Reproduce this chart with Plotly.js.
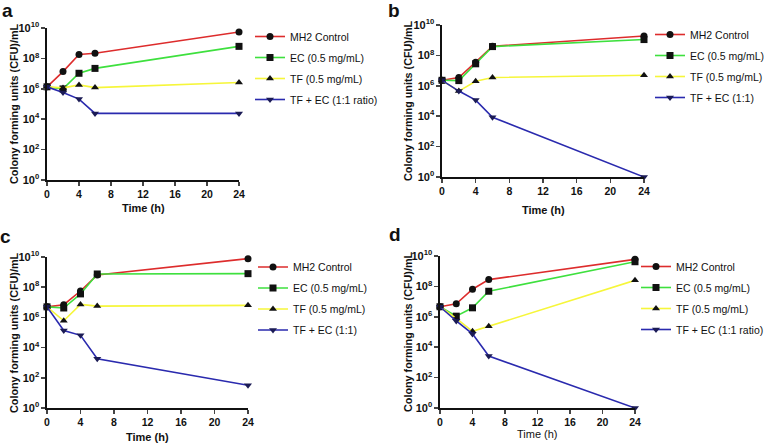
<!DOCTYPE html>
<html><head><meta charset="utf-8">
<script src="https://cdn.plot.ly/plotly-3.0.1.min.js"></script>
<style>html,body{margin:0;padding:0;background:#fff}#chart{width:779px;height:447px}</style>
</head><body><div id="chart"></div>
<script>
// ---- data (CFU/mL) ----
const time = [0, 2, 4, 6, 24];
const xTicks = [0, 4, 8, 12, 16, 20, 24];
const yTickVals = [1, 1e2, 1e4, 1e6, 1e8, 1e10];
const yTickText = ['10<sup>0</sup>','10<sup>2</sup>','10<sup>4</sup>','10<sup>6</sup>','10<sup>8</sup>','10<sup>10</sup>'];
const panelLabels = ['a', 'b', 'c', 'd'];
const namesLong = ['MH2 Control', 'EC (0.5 mg/mL)', 'TF (0.5 mg/mL)', 'TF + EC (1:1 ratio)'];
const namesShort = ['MH2 Control', 'EC (0.5 mg/mL)', 'TF (0.5 mg/mL)', 'TF + EC (1:1)'];

const a_mh2  = [1.35e6, 1.35e7, 1.8e8, 2.2e8, 5.5e9];
const a_ec   = [1.35e6, 9.8e5, 1.05e7, 2.2e7, 6.2e8];
const a_tf   = [1.35e6, 1.15e6, 1.8e6, 1.2e6, 2.6e6];
const a_tfec = [1.35e6, 5.8e5, 2.1e5, 2.4e4, 2.4e4];

const b_mh2  = [2.3e6, 3.5e6, 3.6e7, 4.0e8, 1.9e9];
const b_ec   = [2.3e6, 2.2e6, 2.8e7, 3.8e8, 1.1e9];
const b_tf   = [2.3e6, 4.5e5, 2.0e6, 3.5e6, 5.0e6];
const b_tfec = [2.3e6, 4.5e5, 1.15e5, 8.5e3, 1];

const c_mh2  = [5.0e6, 6.9e6, 5.6e7, 6.5e8, 7.8e9];
const c_ec   = [5.0e6, 4.2e6, 3.6e7, 7.5e8, 7.9e8];
const c_tf   = [5.0e6, 6.0e5, 7.2e6, 5.6e6, 6.3e6];
const c_tfec = [5.0e6, 1.35e5, 6.5e4, 1.85e3, 32];

const d_mh2  = [4.6e6, 7.2e6, 6.5e7, 2.8e8, 6.0e9];
const d_ec   = [4.6e6, 1.1e6, 3.9e6, 4.8e7, 4.2e9];
const d_tf   = [4.6e6, 8.0e5, 1.1e5, 2.4e5, 2.5e8];
const d_tfec = [4.6e6, 5.3e5, 7.5e4, 2.6e3, 1];

const panelData = [
  [a_mh2, a_ec, a_tf, a_tfec],
  [b_mh2, b_ec, b_tf, b_tfec],
  [c_mh2, c_ec, c_tf, c_tfec],
  [d_mh2, d_ec, d_tf, d_tfec]
];
const panelNames = [namesLong, namesShort, namesShort, namesLong];

// ---- styles ----
const W = 779, H = 447;
const lineColors = ['#dd2c2c', '#3ee03e', '#f6f63a', '#2a2aae'];
const markerColors = ['#111111', '#111111', '#111111', '#1b1b55'];
const symbols = ['circle', 'square', 'triangle-up', 'triangle-down'];
const markerSizes = [7, 7, 7, 7];
const FONT = 'Liberation Sans, Arial, Helvetica, sans-serif';

// plot boxes in pixels: [left, right, top, bottom]
const boxes = [
  [47, 239, 28, 180],
  [442, 644, 25, 177],
  [47, 248, 257, 408],
  [440, 635, 256, 408]
];
const legendPos = [[250, 22], [650, 20], [253, 252.5], [636, 252]];
const letterPos = [[8, 10], [394, 10], [5, 236], [395, 234]];
const yTitlePos = [[14, 104], [408, 101], [14, 333], [408, 332]];
const xTitlePos = [[143, 208], [543, 210], [147, 437], [537, 434]];

const px = x => x / W, py = y => 1 - y / H;

const traces = [];
const layout = {
  width: W, height: H,
  margin: {l: 0, r: 0, t: 0, b: 0},
  paper_bgcolor: '#fff', plot_bgcolor: '#fff',
  font: {family: FONT, color: '#111'},
  showlegend: true,
  annotations: []
};

panelData.forEach((series, p) => {
  const sfx = p === 0 ? '' : String(p + 1);
  const lg = 'legend' + sfx;
  series.forEach((vals, i) => {
    traces.push({
      x: time, y: vals, type: 'scatter', mode: 'lines+markers',
      name: panelNames[p][i],
      xaxis: 'x' + sfx, yaxis: 'y' + sfx,
      legend: lg, legendgroup: 'p' + p + 's' + i,
      cliponaxis: false,
      line: {color: lineColors[i], width: 1.6},
      marker: {symbol: symbols[i], size: markerSizes[i], color: markerColors[i]}
    });
  });
  const b = boxes[p];
  layout['xaxis' + sfx] = {
    domain: [px(b[0]), px(b[1])], anchor: 'y' + sfx,
    range: [0, 24], tickvals: xTicks, ticks: 'outside', ticklen: 4, tickwidth: 1.5,
    showline: true, linewidth: 1.6, linecolor: '#111', showgrid: false, zeroline: false,
    tickfont: {family: FONT, size: 10.5, weight: 'bold', color: '#111'}
  };
  layout['yaxis' + sfx] = {
    domain: [py(b[3]), py(b[2])], anchor: 'x' + sfx, type: 'log',
    range: [0, 10], tickvals: yTickVals, ticktext: yTickText,
    ticks: 'outside', ticklen: 4, tickwidth: 1.5,
    showline: true, linewidth: 1.6, linecolor: '#111', showgrid: false, zeroline: false,
    tickfont: {family: FONT, size: 11, weight: 'bold', color: '#111'}
  };
  layout[lg] = {
    x: px(legendPos[p][0]), y: py(legendPos[p][1]), xanchor: 'left', yanchor: 'top',
    xref: 'paper', yref: 'paper',
    bgcolor: 'rgba(0,0,0,0)', borderwidth: 0, tracegroupgap: 2, itemwidth: 30,
    font: {family: FONT, size: 10.5, color: '#111'}
  };
  layout.annotations.push({
    text: panelLabels[p], x: px(letterPos[p][0]), y: py(letterPos[p][1]),
    xref: 'paper', yref: 'paper', showarrow: false, xanchor: 'center', yanchor: 'middle',
    font: {family: FONT, size: 19, weight: 'bold', color: '#111'}
  });
  layout.annotations.push({
    text: 'Colony forming units (CFU)/mL', x: px(yTitlePos[p][0]), y: py(yTitlePos[p][1]),
    xref: 'paper', yref: 'paper', showarrow: false, textangle: -90, xanchor: 'center', yanchor: 'middle',
    font: {family: FONT, size: 10.8, weight: 'bold', color: '#111'}
  });
  layout.annotations.push({
    text: 'Time (h)', x: px(xTitlePos[p][0]), y: py(xTitlePos[p][1]),
    xref: 'paper', yref: 'paper', showarrow: false, xanchor: 'center', yanchor: 'middle',
    font: {family: FONT, size: 11, weight: p === 3 ? 'normal' : 'bold', color: '#111'}
  });
});

Plotly.newPlot('chart', traces, layout, {displayModeBar: false, staticPlot: true});
</script>
</body></html>
